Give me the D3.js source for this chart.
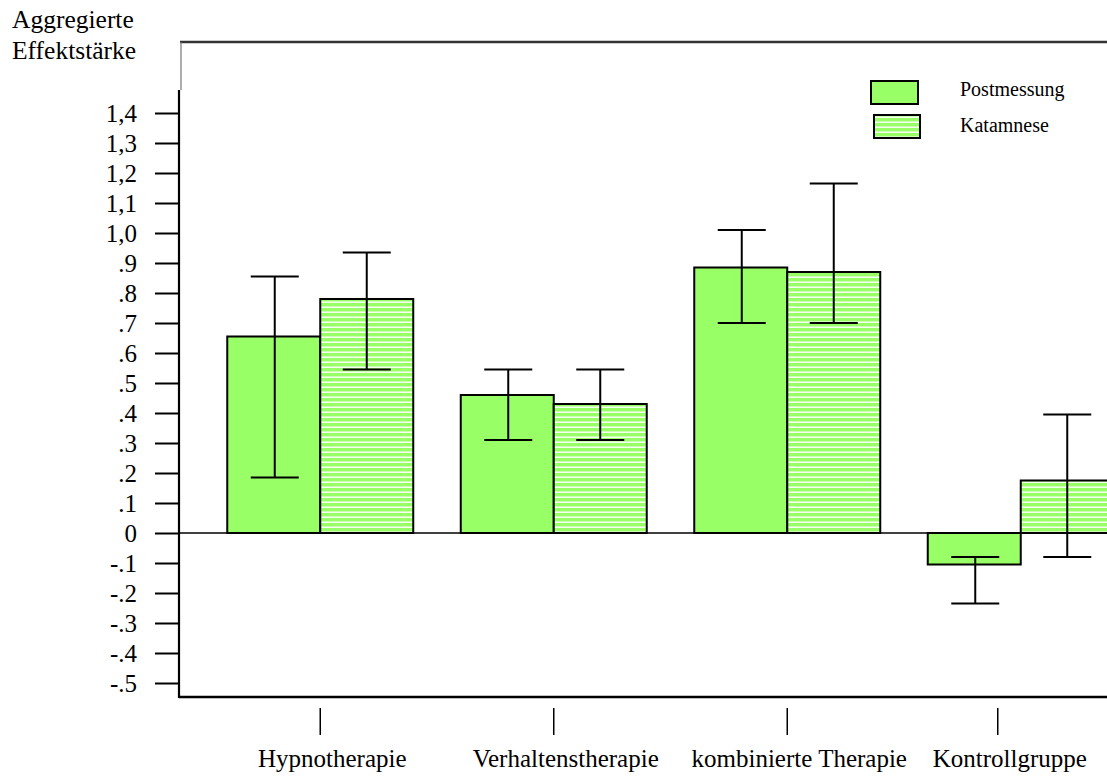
<!DOCTYPE html>
<html>
<head>
<meta charset="utf-8">
<script src="https://cdn.jsdelivr.net/npm/d3@7"></script>
<style>
  body { margin: 0; background: #fff; }
  text { font-family: "Liberation Serif", "Times New Roman", serif; fill: #000; }
</style>
</head>
<body>
<div id="chart"></div>
<script>
// data
const categories = ['Hypnotherapie', 'Verhaltenstherapie', 'kombinierte Therapie', 'Kontrollgruppe'];
const seriesNames = ['Postmessung', 'Katamnese'];
const postMean = [0.655, 0.46, 0.885, -0.105];
const postHi = [0.855, 0.545, 1.01, -0.08];
const postLo = [0.185, 0.31, 0.70, -0.235];
const katMean = [0.78, 0.43, 0.87, 0.175];
const katHi = [0.935, 0.545, 1.165, 0.395];
const katLo = [0.545, 0.31, 0.70, -0.08];
const tickValues = [1.4, 1.3, 1.2, 1.1, 1.0, 0.9, 0.8, 0.7, 0.6, 0.5, 0.4, 0.3, 0.2, 0.1, 0, -0.1, -0.2, -0.3, -0.4, -0.5];
const tickLabels = ['1,4', '1,3', '1,2', '1,1', '1,0', '.9', '.8', '.7', '.6', '.5', '.4', '.3', '.2', '.1', '0', '-.1', '-.2', '-.3', '-.4', '-.5'];

const W = 1107, H = 778;
const green = '#99ff66';
const serif = '"Liberation Serif", "Times New Roman", serif';
const frame = { left: 179, top: 42, right: 1107, bottom: 697, axisTop: 90 };

const svg = d3.select('#chart')
  .append('svg')
  .attr('width', W)
  .attr('height', H);

// hatched fill for Katamnese
const defs = svg.append('defs');
const pat = defs.append('pattern')
  .attr('id', 'hatch')
  .attr('patternUnits', 'userSpaceOnUse')
  .attr('width', 10)
  .attr('height', 5);
pat.append('rect').attr('width', 10).attr('height', 5).attr('fill', green);
pat.append('rect').attr('y', 1.5).attr('width', 10).attr('height', 1.4).attr('fill', '#fff');

defs.append('clipPath').attr('id', 'plotclip')
  .append('rect')
  .attr('x', frame.left).attr('y', frame.top)
  .attr('width', frame.right - frame.left).attr('height', frame.bottom - frame.top);

const y = d3.scaleLinear()
  .domain([-0.5, 1.4])
  .range([683, 113]);

const x = d3.scaleBand()
  .domain(categories)
  .range([203.5, 1137.5])
  .padding(0);

const barW = 93;

// frame
svg.append('line')
  .attr('x1', frame.left + 1).attr('x2', frame.right)
  .attr('y1', frame.top).attr('y2', frame.top)
  .attr('stroke', '#333').attr('stroke-width', 2.5);
svg.append('line')
  .attr('x1', frame.left + 2).attr('x2', frame.left + 2)
  .attr('y1', frame.top).attr('y2', frame.axisTop)
  .attr('stroke', '#777').attr('stroke-width', 1.2);
svg.append('line')
  .attr('x1', frame.left).attr('x2', frame.left)
  .attr('y1', frame.axisTop).attr('y2', frame.bottom + 1)
  .attr('stroke', '#000').attr('stroke-width', 2.2);
svg.append('line')
  .attr('x1', frame.left).attr('x2', frame.right)
  .attr('y1', frame.bottom).attr('y2', frame.bottom)
  .attr('stroke', '#000').attr('stroke-width', 2.5);

// y axis
const yAxis = svg.append('g')
  .attr('transform', 'translate(' + frame.left + ',0)')
  .call(d3.axisLeft(y)
    .tickValues(tickValues)
    .tickFormat((d, i) => tickLabels[i])
    .tickSize(24)
    .tickPadding(18));
yAxis.select('.domain').remove();
yAxis.selectAll('line').attr('stroke', '#000').attr('stroke-width', 2);
yAxis.selectAll('text')
  .style('font-size', '25px')
  .style('font-family', serif)
  .attr('dy', '0.35em');

// y title
svg.append('text').attr('x', 12).attr('y', 28).style('font-size', '25.5px').text('Aggregierte');
svg.append('text').attr('x', 12).attr('y', 59).style('font-size', '25.5px').text('Effektstärke');

// zero line
svg.append('line')
  .attr('x1', frame.left).attr('x2', frame.right)
  .attr('y1', y(0)).attr('y2', y(0))
  .attr('stroke', '#000').attr('stroke-width', 1.6);

const plot = svg.append('g').attr('clip-path', 'url(#plotclip)');

const rows = categories.map((c, i) => ({
  cat: c,
  post: { mean: postMean[i], hi: postHi[i], lo: postLo[i] },
  kat: { mean: katMean[i], hi: katHi[i], lo: katLo[i] }
}));

const center = d => x(d.cat) + x.bandwidth() / 2;

// Postmessung bars
plot.selectAll('.post')
  .data(rows)
  .enter()
  .append('rect')
  .attr('class', 'post')
  .attr('x', d => center(d) - barW)
  .attr('y', d => y(Math.max(0, d.post.mean)))
  .attr('width', barW)
  .attr('height', d => Math.abs(y(d.post.mean) - y(0)))
  .attr('fill', green)
  .attr('stroke', '#000')
  .attr('stroke-width', 2);

// Katamnese bars
plot.selectAll('.kat')
  .data(rows)
  .enter()
  .append('rect')
  .attr('class', 'kat')
  .attr('x', d => center(d))
  .attr('y', d => y(Math.max(0, d.kat.mean)))
  .attr('width', barW)
  .attr('height', d => Math.abs(y(d.kat.mean) - y(0)))
  .attr('fill', 'url(#hatch)')
  .attr('stroke', '#000')
  .attr('stroke-width', 2);

// error bars
const capW = 48;
const errs = [];
rows.forEach(d => {
  errs.push({ cx: center(d) - barW / 2 + 1, e: d.post });
  errs.push({ cx: center(d) + barW / 2, e: d.kat });
});
const eb = plot.selectAll('.err')
  .data(errs)
  .enter()
  .append('g')
  .attr('class', 'err')
  .attr('stroke', '#000')
  .attr('stroke-width', 2);
eb.append('line')
  .attr('x1', d => d.cx).attr('x2', d => d.cx)
  .attr('y1', d => y(d.e.hi)).attr('y2', d => y(d.e.lo));
eb.append('line')
  .attr('x1', d => d.cx - capW / 2).attr('x2', d => d.cx + capW / 2)
  .attr('y1', d => y(d.e.hi)).attr('y2', d => y(d.e.hi));
eb.append('line')
  .attr('x1', d => d.cx - capW / 2).attr('x2', d => d.cx + capW / 2)
  .attr('y1', d => y(d.e.lo)).attr('y2', d => y(d.e.lo));

// x axis ticks and labels (last one sits a bit left in the original)
const shift = c => c === 'Kontrollgruppe' ? -23 : 0;
const xt = svg.selectAll('.xtick')
  .data(categories)
  .enter()
  .append('g')
  .attr('class', 'xtick')
  .attr('transform', c => 'translate(' + (x(c) + x.bandwidth() / 2 + shift(c)) + ',0)');
xt.append('line')
  .attr('y1', 708).attr('y2', 735)
  .attr('stroke', '#000').attr('stroke-width', 1.5);
xt.append('text')
  .attr('x', 12)
  .attr('y', 767)
  .attr('text-anchor', 'middle')
  .style('font-size', '25px')
  .text(c => c);

// legend
const legend = svg.append('g');
legend.append('rect')
  .attr('x', 871).attr('y', 81).attr('width', 47).attr('height', 23)
  .attr('fill', green).attr('stroke', '#000').attr('stroke-width', 2);
legend.append('rect')
  .attr('x', 874).attr('y', 115).attr('width', 46).attr('height', 23)
  .attr('fill', 'url(#hatch)').attr('stroke', '#000').attr('stroke-width', 2);
legend.selectAll('.ltext')
  .data(seriesNames)
  .enter()
  .append('text')
  .attr('x', 960)
  .attr('y', (d, i) => 96 + i * 36)
  .style('font-size', '20px')
  .text(d => d);
</script>
</body>
</html>
